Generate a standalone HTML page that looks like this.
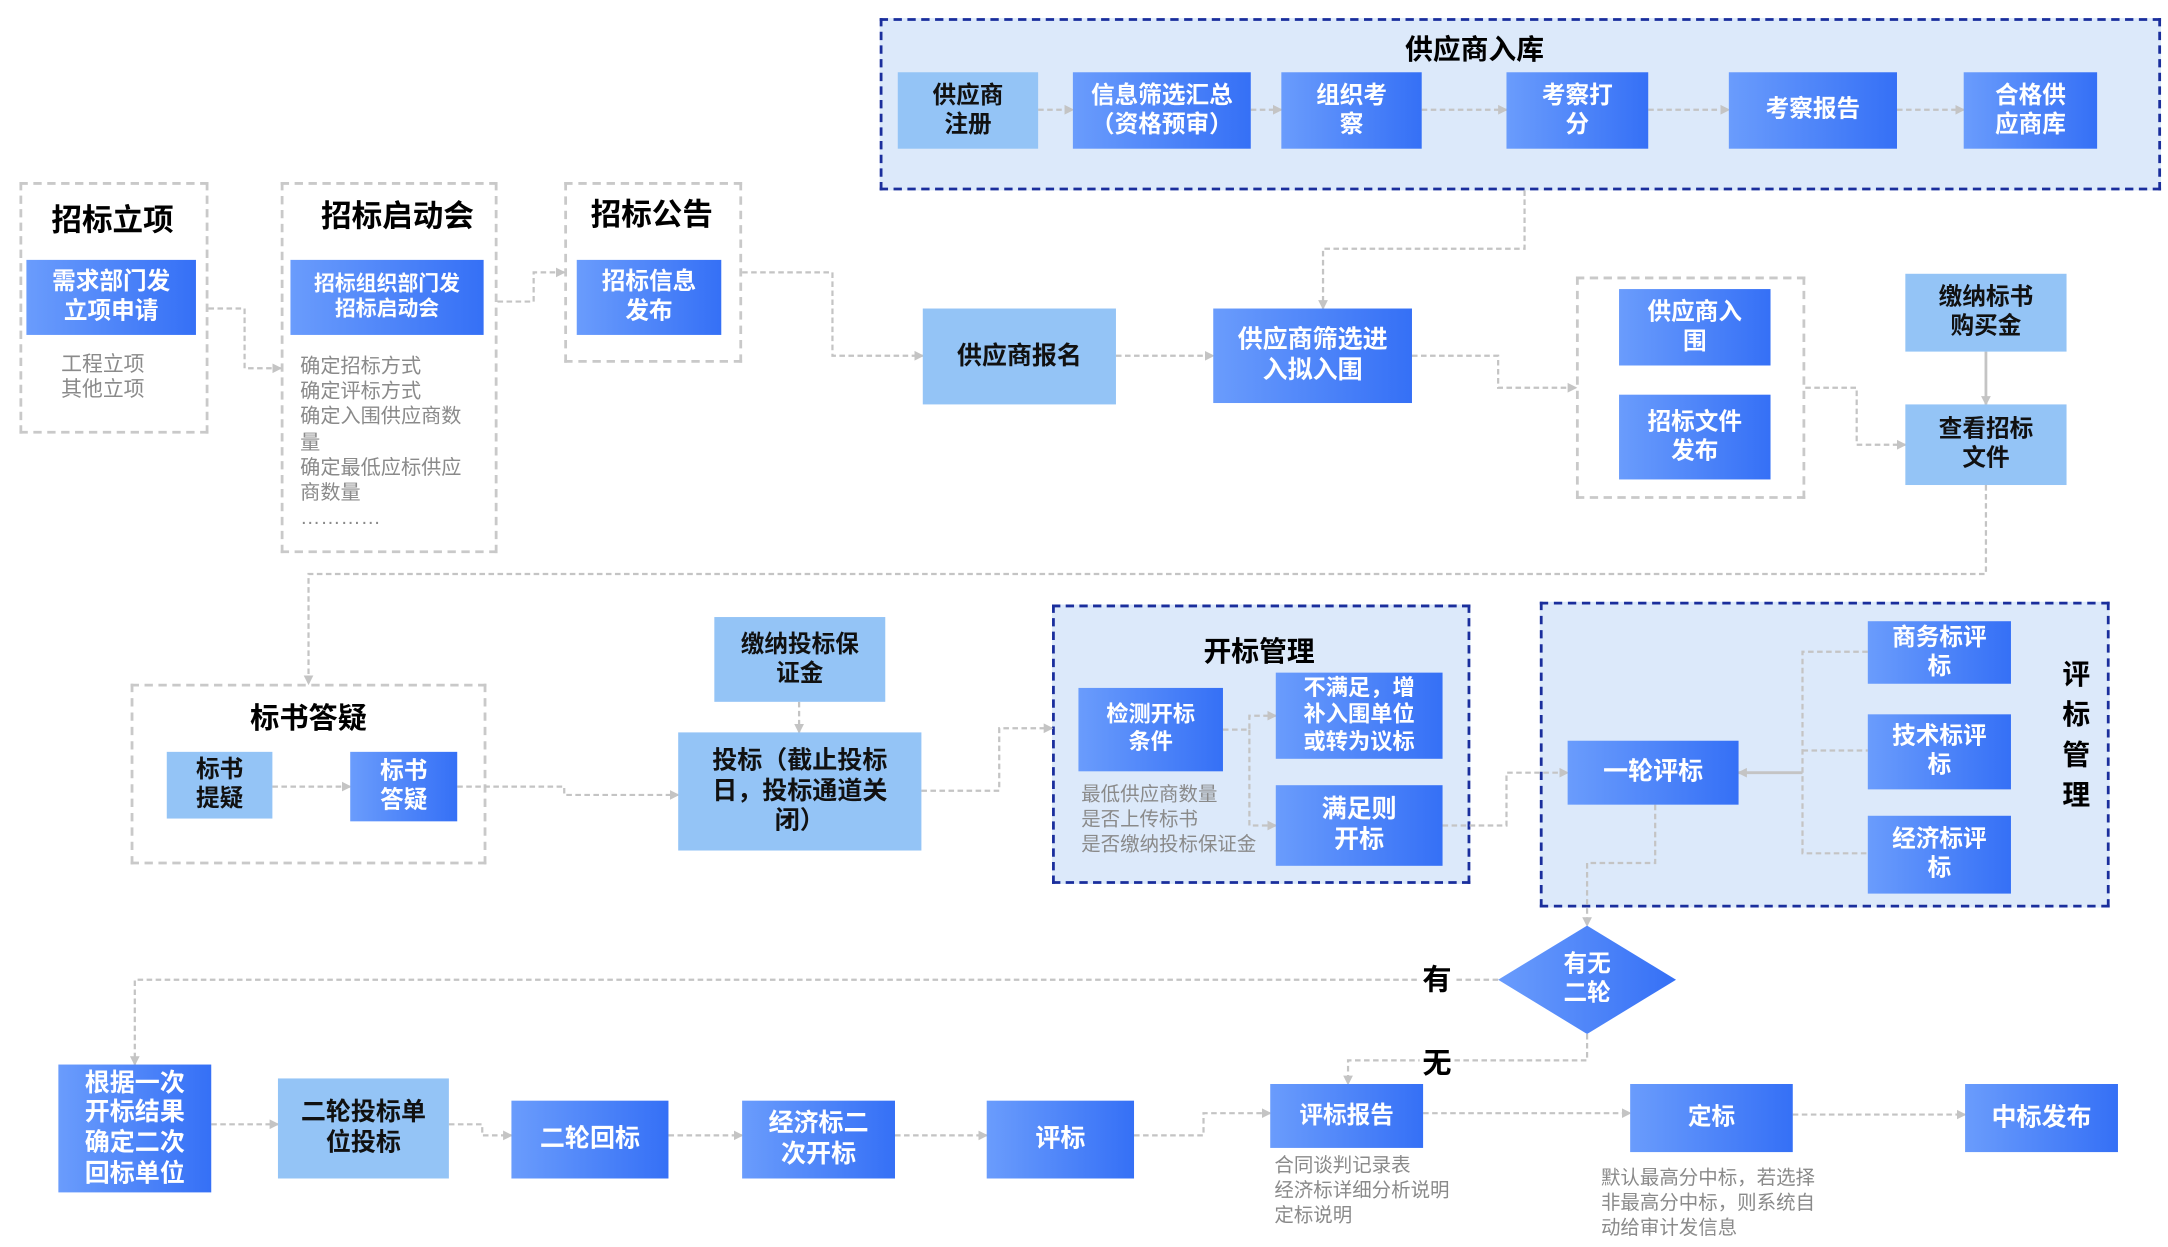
<!DOCTYPE html>
<html><head><meta charset="utf-8"><style>
body{margin:0;background:#fff;}
#o{position:relative;width:2168px;height:1247px;overflow:hidden;background:#fff;}
#w{position:absolute;left:0;top:0;width:1560px;height:897px;transform:scale(1.38974);transform-origin:0 0;font-family:"Liberation Sans","Noto Sans CJK SC",sans-serif;}
.b{position:absolute;display:flex;align-items:center;justify-content:center;text-align:center;font-weight:bold;line-height:1.22;font-size:17px;box-sizing:border-box;}
.d{background:linear-gradient(to right,#6a9cfc,#3570f6);color:#fff;}
.l{background:#94c4f6;color:#111;}
.g{position:absolute;border:2px dashed #c9c9c9;box-sizing:border-box;}
.c{position:absolute;border:2px dashed #1a2e9c;background:#dce9fa;box-sizing:border-box;}
.t{position:absolute;font-weight:bold;color:#000;transform:translate(-50%,-50%);white-space:nowrap;}
.gt{position:absolute;color:#8a8a8a;font-size:14.5px;line-height:18.2px;white-space:nowrap;}
</style></head><body><div id="o"><div id="w">

<div class="c" style="left:633px;top:13px;width:922px;height:124px"></div>
<div class="c" style="left:757px;top:435px;width:301px;height:201px"></div>
<div class="c" style="left:1108px;top:433px;width:410px;height:220px"></div>

<div class="g" style="left:14px;top:131px;width:136px;height:181px"></div>
<div class="g" style="left:202px;top:131px;width:156px;height:267px"></div>
<div class="g" style="left:406px;top:131px;width:128px;height:130px"></div>
<div class="g" style="left:1134px;top:199px;width:165px;height:160px"></div>
<div class="g" style="left:94px;top:492px;width:256px;height:130px"></div>

<svg style="position:absolute;left:0;top:0" width="1560" height="897">
<defs><marker id="a" markerWidth="8" markerHeight="8" refX="6" refY="4" orient="auto" markerUnits="userSpaceOnUse"><path d="M0,0.5 L7,4 L0,7.5 Z" fill="#c4c4c4"/></marker>
<linearGradient id="dg" x1="0" x2="1"><stop offset="0" stop-color="#6a9cfc"/><stop offset="1" stop-color="#3570f6"/></linearGradient></defs>
<g fill="none" stroke="#c4c4c4" stroke-width="1.6" stroke-dasharray="4 2.5" marker-end="url(#a)">
<path d="M747,79 H772"/><path d="M900,79 H922"/><path d="M1023,79 H1084"/><path d="M1186,79 H1244"/><path d="M1365,79 H1413"/>
<path d="M1097,137 V179 H952 V222"/>
<path d="M150,222 H176 V265 H202"/>
<path d="M358,217 H384 V196 H406"/>
<path d="M534,196 H599 V256 H664"/>
<path d="M803,256 H873"/>
<path d="M1016,256 H1078 V279 H1134"/>
<path d="M1299,279 H1336 V320 H1371"/>
<path d="M1429,349 V413 H222 V492"/>
<path d="M196,566 H252"/>
<path d="M329,566 H406 V572 H488"/>
<path d="M575,505 V527"/>
<path d="M663,569 H719 V524 H757"/>
<path d="M880,525 H899 V515 H918"/><path d="M899,525 V594 H918"/>
<path d="M1038,594 H1084 V556 H1128"/>
<path d="M1344,469 H1297 V614 H1344" marker-end="none"/><path d="M1297,540 H1344" marker-end="none"/>
<path d="M1191,579 V621 H1142 V666"/>
<path d="M1078,705 H97 V766"/>
<path d="M1142,744 V763 H970 V780"/>
<path d="M152,809 H200"/>
<path d="M323,809 H347 V817 H368"/>
<path d="M481,817 H534"/>
<path d="M644,817 H710"/>
<path d="M816,817 H866 V801 H914"/>
<path d="M1024,801 H1173"/>
<path d="M1290,802 H1414"/>
</g>
<g fill="none" stroke="#c4c4c4" stroke-width="2" marker-end="url(#a)">
<path d="M1429,253 V291"/>
<path d="M1297,556 H1251"/>
</g>
<polygon points="1142,666 1206,705 1142,744 1078,705" fill="url(#dg)"/>
</svg>

<div class="t" style="left:1061px;top:34px;font-size:20px">供应商入库</div>
<div class="t" style="left:81px;top:157px;font-size:22px">招标立项</div>
<div class="t" style="left:286px;top:154px;font-size:22px">招标启动会</div>
<div class="t" style="left:469px;top:153px;font-size:22px">招标公告</div>
<div class="t" style="left:222px;top:516px;font-size:21px">标书答疑</div>
<div class="t" style="left:906px;top:467px;font-size:20px">开标管理</div>
<div class="t" style="left:1494px;top:530px;font-size:20px;line-height:29px;text-align:center">评<br>标<br>管<br>理</div>
<div class="t" style="left:1034px;top:704px;font-size:21px;background:#fff;padding:0 2px">有</div>
<div class="t" style="left:1034px;top:764px;font-size:21px;background:#fff;padding:0 2px">无</div>

<div class="b l" style="left:646px;top:52px;width:101px;height:55px">供应商<br>注册</div>
<div class="b d" style="left:772px;top:52px;width:128px;height:55px">信息筛选汇总<br>（资格预审）</div>
<div class="b d" style="left:922px;top:52px;width:101px;height:55px">组织考<br>察</div>
<div class="b d" style="left:1084px;top:52px;width:102px;height:55px">考察打<br>分</div>
<div class="b d" style="left:1244px;top:52px;width:121px;height:55px">考察报告</div>
<div class="b d" style="left:1413px;top:52px;width:96px;height:55px">合格供<br>应商库</div>

<div class="b d" style="left:19px;top:187px;width:122px;height:54px">需求部门发<br>立项申请</div>
<div class="gt" style="left:44px;top:254px;text-align:center;font-size:15px">工程立项<br>其他立项</div>
<div class="b d" style="left:209px;top:187px;width:139px;height:54px;font-size:15px">招标组织部门发<br>招标启动会</div>
<div class="gt" style="left:216px;top:255px;font-size:14.5px">确定招标方式<br>确定评标方式<br>确定入围供应商数<br>量<br>确定最低应标供应<br>商数量<br>…………</div>
<div class="b d" style="left:415px;top:187px;width:104px;height:54px">招标信息<br>发布</div>

<div class="b l" style="left:664px;top:222px;width:139px;height:69px;font-size:18px">供应商报名</div>
<div class="b d" style="left:873px;top:222px;width:143px;height:68px;font-size:18px">供应商筛选进<br>入拟入围</div>
<div class="b d" style="left:1165px;top:208px;width:109px;height:55px">供应商入<br>围</div>
<div class="b d" style="left:1165px;top:284px;width:109px;height:61px">招标文件<br>发布</div>
<div class="b l" style="left:1371px;top:197px;width:116px;height:56px">缴纳标书<br>购买金</div>
<div class="b l" style="left:1371px;top:291px;width:116px;height:58px">查看招标<br>文件</div>

<div class="b l" style="left:120px;top:541px;width:76px;height:48px">标书<br>提疑</div>
<div class="b d" style="left:252px;top:541px;width:77px;height:50px">标书<br>答疑</div>
<div class="b l" style="left:514px;top:444px;width:123px;height:61px">缴纳投标保<br>证金</div>
<div class="b l" style="left:488px;top:527px;width:175px;height:85px;font-size:18px">投标（截止投标<br>日，投标通道关<br>闭）</div>

<div class="b d" style="left:776px;top:495px;width:104px;height:60px;font-size:16px">检测开标<br>条件</div>
<div class="gt" style="left:778px;top:562px;font-size:14px">最低供应商数量<br>是否上传标书<br>是否缴纳投标保证金</div>
<div class="b d" style="left:918px;top:484px;width:120px;height:62px;font-size:16px;line-height:1.2">不满足，增<br>补入围单位<br>或转为议标</div>
<div class="b d" style="left:918px;top:565px;width:120px;height:58px;font-size:18px">满足则<br>开标</div>

<div class="b d" style="left:1128px;top:533px;width:123px;height:46px;font-size:18px">一轮评标</div>
<div class="b d" style="left:1344px;top:447px;width:103px;height:45px">商务标评<br>标</div>
<div class="b d" style="left:1344px;top:514px;width:103px;height:54px">技术标评<br>标</div>
<div class="b d" style="left:1344px;top:587px;width:103px;height:56px">经济标评<br>标</div>
<div class="b" style="left:1100px;top:684px;width:84px;height:42px;color:#fff;font-size:17px">有无<br>二轮</div>

<div class="b d" style="left:42px;top:766px;width:110px;height:92px;font-size:18px;line-height:1.2">根据一次<br>开标结果<br>确定二次<br>回标单位</div>
<div class="b l" style="left:200px;top:776px;width:123px;height:72px;font-size:18px">二轮投标单<br>位投标</div>
<div class="b d" style="left:368px;top:792px;width:113px;height:56px;font-size:18px">二轮回标</div>
<div class="b d" style="left:534px;top:792px;width:110px;height:56px;font-size:18px">经济标二<br>次开标</div>
<div class="b d" style="left:710px;top:792px;width:106px;height:56px;font-size:18px">评标</div>
<div class="b d" style="left:914px;top:780px;width:110px;height:46px">评标报告</div>
<div class="gt" style="left:917px;top:829px;font-size:14px">合同谈判记录表<br>经济标详细分析说明<br>定标说明</div>
<div class="b d" style="left:1173px;top:780px;width:117px;height:49px">定标</div>
<div class="gt" style="left:1152px;top:838px;font-size:14px">默认最高分中标，若选择<br>非最高分中标，则系统自<br>动给审计发信息</div>
<div class="b d" style="left:1414px;top:780px;width:110px;height:49px;font-size:18px">中标发布</div>

</div></div></body></html>
